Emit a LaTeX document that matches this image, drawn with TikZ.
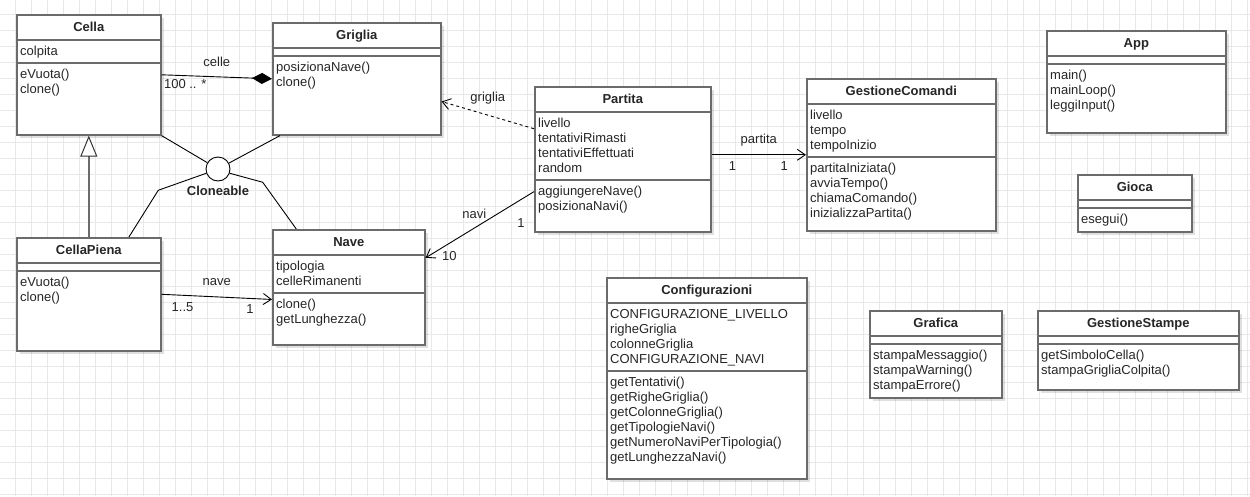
\documentclass[tikz,border=0pt]{standalone}
\usepackage{fontspec}
\setmainfont{Liberation Sans}
\usepackage{tikz}
\usetikzlibrary{arrows.meta, positioning, shadows}

% one UML class: name, top-left corner, width, height, title, number of attributes, attributes, operations
\newcommand{\umlclass}[8]{%
  \node[classbox, minimum width=#3, minimum height=#4] (#1) at #2 {};
  \node[classtitle] (#1-title) at ([yshift=-14pt]#1.north) {#5};
  \draw[classline] ([yshift=-26pt]#1.north west) -- ([yshift=-26pt]#1.north east);
  \draw[classline] ([yshift=-34pt-#6*15pt]#1.north west) -- ([yshift=-34pt-#6*15pt]#1.north east);
  \node[classtext] (#1-attrs) at ([xshift=4pt, yshift=-30.5pt]#1.north west) {\strut #7};
  \node[classtext] (#1-ops) at ([xshift=4pt, yshift=-38.5pt-#6*15pt]#1.north west) {\strut #8};
}

\begin{document}
\begin{tikzpicture}[
    x=1pt, y=-1pt,
    every node/.style={font=\fontsize{13}{15}\selectfont, text=black!85},
    % Class styles
    classbox/.style={rectangle, draw=black!58, line width=1.6pt, fill=white, anchor=north west, inner sep=0pt,
        drop shadow={shadow xshift=3pt, shadow yshift=-3pt, fill=black, opacity=.12}},
    classtitle/.style={font=\bfseries\fontsize{13}{15}\selectfont, text height=9pt, text depth=3pt, inner sep=0pt},
    classtext/.style={align=left, anchor=north west, inner sep=0pt},
    classline/.style={draw=black!58, line width=1.6pt},
    interface/.style={circle, draw=black, line width=0.9pt, fill=white, minimum size=24pt, inner sep=0pt},
    % Connector styles
    composition/.style={draw=black, line width=0.9pt, -{Diamond[length=20pt, width=11pt]}},
    assoc/.style={draw=black, line width=0.9pt, -{Straight Barb[length=8pt, width=11pt]}},
    dependency/.style={assoc, dash pattern=on 3pt off 3pt},
    generalization/.style={draw=black!58, line width=1.6pt,
        -{Triangle[open, length=21pt, width=17pt, line width=1pt, color=black!80, fill=white]}},
    realizes/.style={draw=black, line width=0.9pt},
    % Labels
    multlabel/.style={text height=9pt, text depth=3pt, inner sep=2pt},
    gridline/.style={draw=black!9, line width=0.6pt}
]

% Canvas and grid
\useasboundingbox (0,0) rectangle (1250,496);
\fill[white] (0,0) rectangle (1250,496);
\foreach \gx in {15,31,...,1250} \draw[gridline] (\gx,0) -- (\gx,496);
\foreach \gy in {14,30,...,496} \draw[gridline] (0,\gy) -- (1250,\gy);

% Classes of the grid
\umlclass{cella}{(16,14)}{144}{120}{Cella}{1}{colpita}{eVuota()\\clone()}
\umlclass{griglia}{(272,22)}{168}{112}{Griglia}{0}{}{posizionaNave()\\clone()}
\umlclass{cellapiena}{(16,237)}{144}{113}{CellaPiena}{0}{}{eVuota()\\clone()}
\umlclass{nave}{(272,229)}{152}{115}{Nave}{2}{tipologia\\celleRimanenti}{clone()\\getLunghezza()}

% Game classes
\umlclass{partita}{(534,86)}{176}{145}{Partita}{4}{livello\\tentativiRimasti\\tentativiEffettuati\\random}{aggiungereNave()\\posizionaNavi()}
\umlclass{gestionecomandi}{(806,78)}{189}{152}{GestioneComandi}{3}{livello\\tempo\\tempoInizio}{partitaIniziata()\\avviaTempo()\\chiamaComando()\\inizializzaPartita()}
\umlclass{app}{(1046,30)}{179}{102}{App}{0}{}{main()\\mainLoop()\\leggiInput()}
\umlclass{gioca}{(1077,174)}{114}{57}{Gioca}{0}{}{esegui()}

% Utility classes
\umlclass{configurazioni}{(606,277)}{200}{201}{Configurazioni}{4}{CONFIGURAZIONE\_LIVELLO\\righeGriglia\\colonneGriglia\\CONFIGURAZIONE\_NAVI}{getTentativi()\\getRigheGriglia()\\getColonneGriglia()\\getTipologieNavi()\\getNumeroNaviPerTipologia()\\getLunghezzaNavi()}
\umlclass{grafica}{(869,310)}{132}{87}{Grafica}{0}{}{stampaMessaggio()\\stampaWarning()\\stampaErrore()}
\umlclass{gestionestampe}{(1037,310)}{201}{79}{GestioneStampe}{0}{}{getSimboloCella()\\stampaGrigliaColpita()}

% Cloneable interface
\node[interface, label={[font=\bfseries\fontsize{13}{15}\selectfont, label distance=1pt]below:Cloneable}] (cloneable) at (218,169) {};
\draw[realizes] (cella.south east) -- (cloneable);
\draw[realizes] ([xshift=8pt]griglia.south west) -- (cloneable);
\draw[realizes] (cloneable.200) -- ++(-48,17) -- (cellapiena.55);
\draw[realizes] (cloneable.340) -- ++(33,9) -- (nave.132);

% Inheritance and composition
\draw[generalization] (cellapiena.north) -- (cella.south);
\draw[composition] (cella.east) -- node[multlabel, above=5pt] {celle}
    node[multlabel, pos=0, anchor=north west, yshift=-2pt] {100 .. *} (griglia.west);

% Associations
\draw[assoc] (cellapiena.east) -- node[multlabel, above=6pt] {nave}
    node[multlabel, pos=.19, below=5pt] {1..5} node[multlabel, pos=.8, below=4pt] {1} (nave.189);
\draw[dependency] (partita.161) -- node[multlabel, above=8pt] {griglia} (griglia.-15);
\draw[assoc] (partita.east |- gestionecomandi.west) -- node[multlabel, above=6pt] {partita}
    node[multlabel, pos=.22, below=4pt] {1} node[multlabel, pos=.77, below=4pt] {1} (gestionecomandi.west);
\draw[assoc] (partita.200) -- node[multlabel, pos=.55, above=4pt] {navi}
    node[multlabel, pos=.12, below=16pt] {1} node[multlabel, pos=1, anchor=west, xshift=14pt] {10} (nave.21);

\end{tikzpicture}
\end{document}
